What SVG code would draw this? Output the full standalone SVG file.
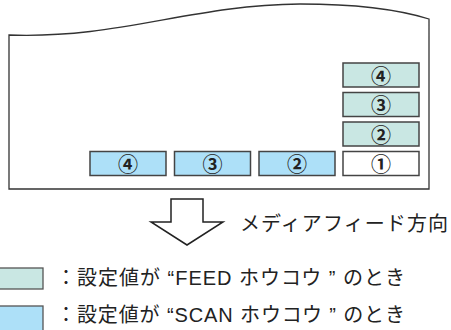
<svg xmlns="http://www.w3.org/2000/svg" width="451" height="330" viewBox="0 0 451 330">
<style>
.box{stroke:#444;stroke-width:1.5}
.feed{fill:#c9e7e3}
.scan{fill:#ade0f8}
.none{fill:#ffffff}
.num{font-family:"Noto Sans CJK JP",sans-serif;font-size:20px;font-weight:bold;fill:#222;text-anchor:middle;dominant-baseline:central}
.lbl{font-family:"Liberation Sans","Noto Sans CJK JP",sans-serif;font-size:20px;fill:#222}
</style>
<rect width="451" height="330" fill="#ffffff"/>
<g id="paper">
<path d="M9,189 L9,35 C120,39 190,5 300,4 C360,4 400,10 429,19 L429,189 Z" fill="#ffffff" stroke="#333" stroke-width="1.3"/>
</g>
<g id="f4"><rect class="box feed" x="343" y="63" width="76" height="24"/><text class="num" x="381" y="75">④</text></g>
<g id="f3"><rect class="box feed" x="343" y="92.5" width="76" height="24"/><text class="num" x="381" y="104.5">③</text></g>
<g id="f2"><rect class="box feed" x="343" y="122" width="76" height="24"/><text class="num" x="381" y="134">②</text></g>
<g id="n1"><rect class="box none" x="343" y="151.5" width="76" height="24"/><text class="num" x="381" y="163.5">①</text></g>
<g id="s2"><rect class="box scan" x="259" y="151.5" width="76" height="24"/><text class="num" x="297" y="163.5">②</text></g>
<g id="s3"><rect class="box scan" x="174.5" y="151.5" width="76" height="24"/><text class="num" x="212.5" y="163.5">③</text></g>
<g id="s4"><rect class="box scan" x="90" y="151.5" width="76" height="24"/><text class="num" x="128" y="163.5">④</text></g>
<g id="connectors">
<polygon points="171,199 203,199 203,222 223,222 187,245 151,222 171,222" fill="#ffffff" stroke="#222" stroke-width="1.5" stroke-linejoin="miter"/>
</g>
<g id="direction"><text class="lbl" x="240" y="231" textLength="208" lengthAdjust="spacing">メディアフィード方向</text></g>
<g id="legend-feed"><rect class="feed" x="-1" y="268" width="44" height="21" stroke="#555" stroke-width="1.3"/><text class="lbl" x="56" y="285" textLength="349" lengthAdjust="spacing">：設定値が “FEED ホウコウ ” のとき</text></g>
<g id="legend-scan"><rect class="scan" x="-1" y="306" width="44" height="26" stroke="#555" stroke-width="1.3"/><text class="lbl" x="56" y="322" textLength="349" lengthAdjust="spacing">：設定値が “SCAN ホウコウ ” のとき</text></g>
</svg>
